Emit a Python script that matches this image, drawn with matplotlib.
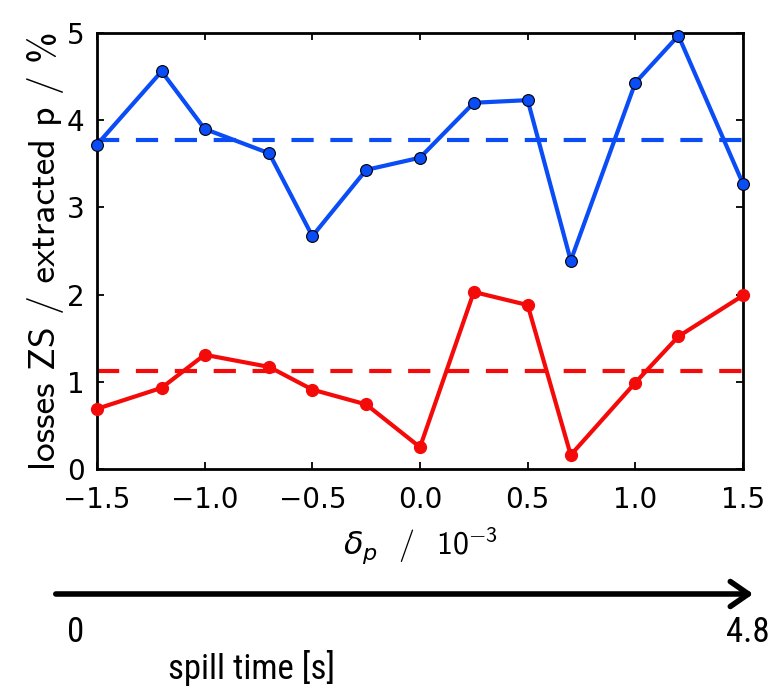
import matplotlib
matplotlib.use("Agg")
import matplotlib.pyplot as plt
from matplotlib.ticker import FixedLocator
from matplotlib import font_manager
from matplotlib.font_manager import FontProperties

plt.rcParams['font.family'] = ['cmss10', 'DejaVu Sans']
plt.rcParams['mathtext.fontset'] = 'custom'
plt.rcParams['mathtext.rm'] = 'cmss10'
plt.rcParams['mathtext.sf'] = 'cmss10'
plt.rcParams['mathtext.it'] = 'DejaVu Sans:italic'
plt.rcParams['mathtext.fallback'] = 'cm'
plt.rcParams['lines.scale_dashes'] = False
plt.rcParams['axes.unicode_minus'] = False

dp = [-1.5, -1.2, -1.0, -0.7, -0.5, -0.25, 0.0, 0.25, 0.5, 0.7, 1.0, 1.2, 1.5]
blue_vals = [3.72, 4.56, 3.90, 3.62, 2.67, 3.43, 3.57, 4.20, 4.23, 2.39, 4.43, 4.97, 3.27]
red_vals = [0.69, 0.93, 1.31, 1.17, 0.91, 0.74, 0.25, 2.03, 1.88, 0.16, 0.99, 1.52, 1.99]
blue_mean = 3.77
red_mean = 1.12
xticks = [-1.5, -1.0, -0.5, 0.0, 0.5, 1.0, 1.5]
xticklabels = ['\u22121.5', '\u22121.0', '\u22120.5', '0.0', '0.5', '1.0', '1.5']
yticks = [0, 1, 2, 3, 4, 5]
yticklabels = ['0', '1', '2', '3', '4', '5']

BLUE = '#0a4cf5'
RED = '#f50a0a'

# pick a narrow sans font for the "spill time" annotation if available
narrow_fp = None
prefs = ['Liberation Sans Narrow', 'Roboto Condensed', 'Open Sans Condensed',
         'Noto Sans Condensed', 'DejaVu Sans Condensed']
entries = font_manager.fontManager.ttflist
for p in prefs:
    for f in entries:
        if f.name == p and f.style == 'normal' and f.weight in (400, 'normal', 'regular'):
            narrow_fp = FontProperties(fname=f.fname)
            break
    if narrow_fp is not None:
        break
if narrow_fp is None:
    for f in entries:
        if (str(f.stretch) in ('condensed', 'semi-condensed') or 'Condensed' in f.fname) \
                and f.style == 'normal' and f.weight in (400, 'normal', 'regular'):
            narrow_fp = FontProperties(fname=f.fname)
            break
if narrow_fp is None:
    narrow_fp = FontProperties(family='Lato')
    bottom_size = 23
else:
    bottom_size = 25
narrow_fp.set_size(bottom_size)

fig = plt.figure(figsize=(7.71, 6.92), dpi=100)
ax = fig.add_axes([0.1258, 0.3223, 0.8379, 0.6300])

ax.axhline(blue_mean, color=BLUE, lw=3.0, dashes=(16, 12), zorder=2)
ax.axhline(red_mean, color=RED, lw=3.0, dashes=(16, 12), zorder=2)
ax.plot(dp, blue_vals, color=BLUE, lw=3.0, marker='o', ms=8.5,
        mfc=BLUE, mec='black', mew=0.8, zorder=3, clip_on=False)
ax.plot(dp, red_vals, color=RED, lw=3.0, marker='o', ms=8.5,
        mfc=RED, mec=RED, zorder=3, clip_on=False)

ax.set_xlim(-1.5, 1.5)
ax.set_ylim(0, 5)
ax.xaxis.set_major_locator(FixedLocator(xticks))
ax.yaxis.set_major_locator(FixedLocator(yticks))
ax.set_xticklabels(xticklabels, family='DejaVu Sans')
ax.set_yticklabels(yticklabels, family='DejaVu Sans')
ax.tick_params(direction='in', length=5, width=1.3, top=True, right=True,
               labelsize=20)
ax.tick_params(axis='x', pad=12)
ax.tick_params(axis='y', pad=9)
for s in ax.spines.values():
    s.set_linewidth(2.0)

ax.set_ylabel('losses ZS / extracted p / %', fontsize=27, labelpad=2)
ax.set_xlabel(r'$\delta_p$  /  10$^{-3}$', fontsize=23, labelpad=8)

# spill time arrow
fig.add_artist(matplotlib.patches.FancyArrowPatch(
    (53 / 771, 1 - 594 / 692), (756 / 771, 1 - 594 / 692),
    transform=fig.transFigure, arrowstyle='->,head_length=13,head_width=9',
    lw=4, color='black', mutation_scale=1))
fig.text(76 / 771, 1 - 633 / 692, '0', fontproperties=narrow_fp,
         ha='center', va='center')
fig.text(770 / 771, 1 - 633 / 692, '4.8', fontproperties=narrow_fp,
         ha='right', va='center')
fig.text(251 / 771, 1 - 668 / 692, 'spill time [s]', fontproperties=narrow_fp,
         ha='center', va='center')

fig.savefig('out.png', dpi=100)
